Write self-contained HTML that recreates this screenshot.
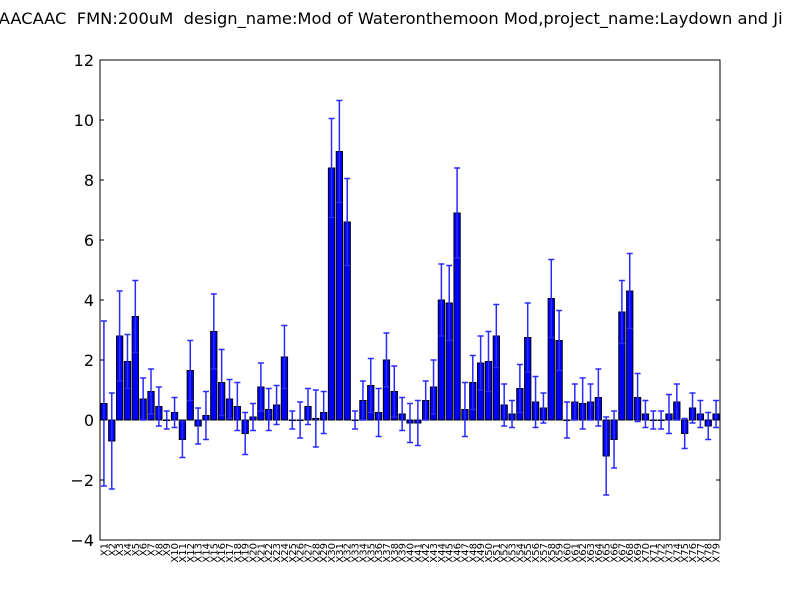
<!DOCTYPE html>
<html><head><meta charset="utf-8"><style>body{margin:0;background:#fff}svg{display:block;font-family:"DejaVu Sans","Liberation Sans",sans-serif}</style></head>
<body>
<svg id="chart" width="800" height="600" viewBox="0 0 800 600">
<rect width="800" height="600" fill="#fff"/>
<text x="385" y="24" text-anchor="middle" font-size="16.3" fill="#000" style="white-space:pre" xml:space="preserve">CAACAAC  FMN:200uM  design_name:Mod of Wateronthemoon Mod,project_name:Laydown and Ji</text>
<g id="plot"></g>
</svg>
<script>
const categories = Array.from({length:79},(_, i)=>'X'+(i+1));
const values = [0.55,-0.7,2.8,1.95,3.45,0.7,0.95,0.45,0.0,0.25,-0.65,1.65,-0.2,0.15,2.95,1.25,0.7,0.45,-0.45,0.1,1.1,0.35,0.5,2.1,0.0,0.0,0.45,0.05,0.25,8.4,8.95,6.6,0.0,0.65,1.15,0.25,2.0,0.95,0.2,-0.1,-0.1,0.65,1.1,4.0,3.9,6.9,0.35,1.25,1.9,1.95,2.8,0.5,0.2,1.05,2.75,0.6,0.4,4.05,2.65,0.0,0.6,0.55,0.6,0.75,-1.2,-0.65,3.6,4.3,0.75,0.2,0.0,0.0,0.2,0.6,-0.45,0.4,0.2,-0.2,0.2];
const errors = [2.75,1.6,1.5,0.9,1.2,0.7,0.75,0.65,0.3,0.5,0.6,1.0,0.6,0.8,1.25,1.1,0.65,0.8,0.7,0.45,0.8,0.7,0.65,1.05,0.3,0.6,0.6,0.95,0.7,1.65,1.7,1.45,0.3,0.65,0.9,0.8,0.9,0.85,0.55,0.65,0.75,0.65,0.9,1.2,1.25,1.5,0.9,0.9,0.9,1.0,1.05,0.7,0.45,0.8,1.15,0.85,0.5,1.3,1.0,0.6,0.6,0.85,0.6,0.95,1.3,0.95,1.05,1.25,0.8,0.45,0.3,0.3,0.65,0.6,0.5,0.5,0.45,0.45,0.45];
const yTicks = [-4,-2,0,2,4,6,8,10,12];
const L=100,R=720,T=60,B=540,ymin=-4,ymax=12;
const NS='http://www.w3.org/2000/svg';
const g=document.getElementById('plot');
const y=v=>B-(v-ymin)/(ymax-ymin)*(B-T);
const slot=(R-L)/categories.length;
const x=i=>L+i*slot;
function mk(t,a){const e=document.createElementNS(NS,t);for(const k in a)e.setAttribute(k,a[k]);g.appendChild(e);return e;}
values.forEach((v,i)=>{
  const x0=x(i)+slot*0.1,w=slot*0.8;
  const r=mk('rect',{x:x0,y:Math.min(y(v),y(0)),width:w,height:Math.max(Math.abs(y(v)-y(0)),0.5),fill:'#0000ff',stroke:'#000','stroke-width':1});
  
  
  const cx=x0+w/2,e=errors[i];
  const eb=mk('path',{d:`M${cx},${y(v+e)}V${y(v-e)}M${cx-3},${y(v+e)}H${cx+3}M${cx-3},${y(v-e)}H${cx+3}`,stroke:'#2a2aff','stroke-width':1.5,fill:'none'});
  
  
  const tl=mk('text',{transform:`translate(${cx+3.5},${B+3}) rotate(-90)`,'text-anchor':'end','font-size':10});
  tl.textContent=categories[i];
  
  
});
yTicks.forEach(t=>{
  const yy=y(t);
  mk('path',{d:`M${L},${yy}h4M${R},${yy}h-4`,stroke:'#000','stroke-width':1});
  const tl=mk('text',{x:L-6,y:yy+6,'text-anchor':'end','font-size':16});
  tl.textContent=t<0?'\u2212'+(-t):String(t);
  
  
});
const fr=mk('rect',{x:L,y:T,width:R-L,height:B-T,fill:'none',stroke:'#000','stroke-width':1});


</script>
</body></html>
